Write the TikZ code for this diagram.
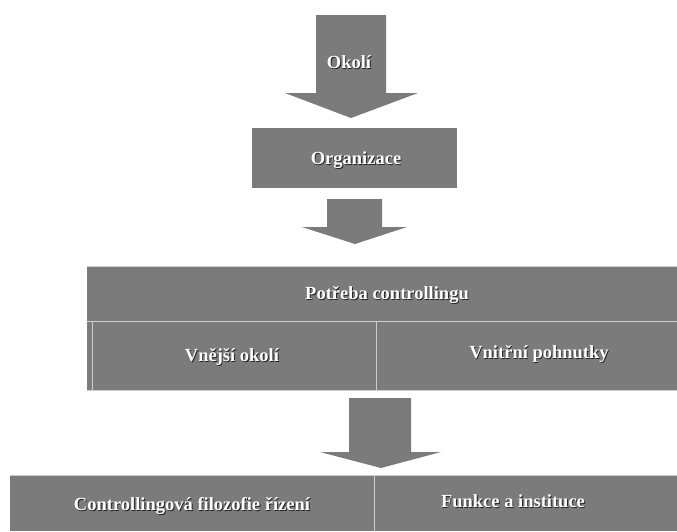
\documentclass[tikz,border=0pt]{standalone}
\usepackage{fontspec}
\setmainfont{Liberation Serif}
\usetikzlibrary{calc}
\definecolor{boxgray}{RGB}{123,123,123}
\definecolor{edgegray}{RGB}{205,205,205}
\definecolor{shadowgray}{RGB}{35,35,35}

% label with a soft drop shadow: #1 position, #2 node name, #3 text
\newcommand\shadowlabel[3]{%
  \node[lblshadow] (#2-s) at ($(#1)+(0.9,0.9)$) {#3};
  \node[lbl] (#2) at (#1) {#3};}

\begin{document}
\begin{tikzpicture}[x=1pt,y=-1pt,
  block/.style={fill=boxgray,draw=none},
  edge/.style={draw=edgegray,line width=1pt},
  lblfont/.style={font=\bfseries\fontsize{18.5}{20}\selectfont,inner sep=0pt},
  lbl/.style={lblfont,text=white},
  lblshadow/.style={lblfont,text=shadowgray},
]
\useasboundingbox (0,0) rectangle (677,531);

% block arrow into the organisation
\fill[boxgray] (316,15) -- (386,15) -- (386,93) -- (418,93) -- (351,118)
  -- (285,93) -- (316,93) -- cycle;

% organisation box
\fill[boxgray] (252,128) rectangle (457,188);

% second block arrow
\fill[boxgray] (327,199) -- (382,199) -- (382,227) -- (407,227) -- (355,244)
  -- (302,227) -- (327,227) -- cycle;

% need for controlling, split into two causes
\fill[boxgray] (87,266) rectangle (677,390);
\draw[edge] (87,266.5) -- (677,266.5);
\draw[edge] (87,321) -- (677,321);
\draw[edge] (87,390) -- (677,390);
\draw[edge] (92,321) rectangle (376,390);

% third block arrow
\fill[boxgray] (349,398) -- (411,398) -- (411,452) -- (441,452) -- (381,468)
  -- (320,452) -- (349,452) -- cycle;

% resulting philosophy and function
\fill[boxgray] (10,475) rectangle (677,531);
\draw[edge] (10,475) -- (677,475);
\draw[edge] (374,475) -- (374,531);

% labels
\shadowlabel{349,62}{okoli}{Okolí}
\shadowlabel{356,160}{org}{Organizace}
\shadowlabel{387,295}{potreba}{Potřeba controllingu}
\shadowlabel{232,357}{vnejsi}{Vnější okolí}
\shadowlabel{539,354}{vnitrni}{Vnitřní pohnutky}
\shadowlabel{192,506}{filozofie}{Controllingová filozofie řízení}
\shadowlabel{513,501}{funkce}{Funkce a instituce}
\end{tikzpicture}
\end{document}
